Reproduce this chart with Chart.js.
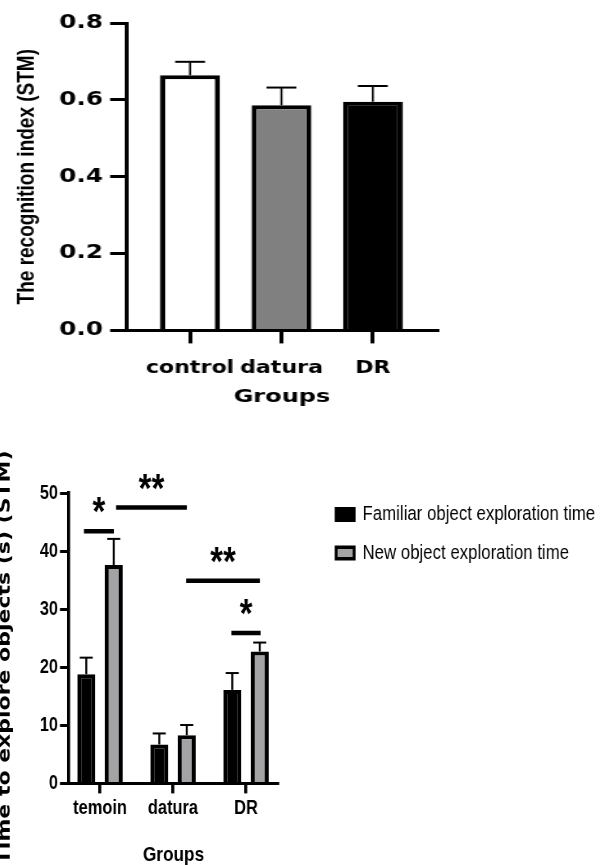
<!DOCTYPE html>
<html>
<head>
<meta charset="utf-8">
<script src="https://cdn.jsdelivr.net/npm/chart.js@4.4.1/dist/chart.umd.min.js"></script>
<style>
  html, body { margin: 0; padding: 0; background: #fff; overflow: hidden; }
  body { width: 603px; height: 865px; position: relative; }
  /* the top figure is stretched and the bottom one squeezed in the original */
  #indexChart { position: absolute; left: 0; top: 0; transform: scaleX(1.3); transform-origin: 0 0; }
  #timeChart { position: absolute; left: -10px; top: 440px; transform: scaleX(0.82); transform-origin: 0 0; }
</style>
</head>
<body>
<canvas id="indexChart" width="340" height="408"></canvas>
<canvas id="timeChart" width="748" height="428"></canvas>
<script>
// top chart: recognition index
const indexGroups = ['control', 'datura', 'DR'];
const recognitionIndex = [0.664, 0.586, 0.595];
const recognitionErr = [0.035, 0.046, 0.041];

// bottom chart: exploration times
const timeGroups = ['temoin', 'datura', 'DR'];
const familiarTime = [18.8, 6.7, 16.1];
const familiarErr = [2.85, 1.9, 2.9];
const newTime = [37.6, 8.3, 22.7];
const newErr = [4.5, 1.75, 1.55];

// significance bars (x in group units, y in seconds)
const sigFrom = [-0.22, 0.22, 1.18, 1.80];
const sigTo = [0.19, 1.19, 2.19, 2.2];
const sigLevel = [43.4, 47.5, 34.9, 25.9];
const sigStars = ['*', '**', '**', '*'];

const toPoints = (values) => values.map((v, i) => ({ x: i, y: v }));

const errorBars = {
  id: 'errorBars',
  afterDatasetsDraw(chart, args, opts) {
    const ctx = chart.ctx;
    const yScale = chart.scales.y;
    ctx.save();
    ctx.strokeStyle = '#000';
    chart.data.datasets.forEach((ds, di) => {
      const meta = chart.getDatasetMeta(di);
      meta.data.forEach((bar, i) => {
        const yTop = yScale.getPixelForValue(ds.data[i].y + ds.errors[i]);
        ctx.lineWidth = opts.lineWidth;
        ctx.beginPath();
        ctx.moveTo(bar.x, bar.y);
        ctx.lineTo(bar.x, yTop);
        ctx.stroke();
        ctx.lineWidth = opts.capLineWidth;
        ctx.beginPath();
        ctx.moveTo(bar.x - opts.capWidth / 2, yTop);
        ctx.lineTo(bar.x + opts.capWidth / 2, yTop);
        ctx.stroke();
      });
    });
    ctx.restore();
  }
};

const sigBars = {
  id: 'sigBars',
  afterDatasetsDraw(chart) {
    const ctx = chart.ctx;
    const xScale = chart.scales.x;
    const yScale = chart.scales.y;
    ctx.save();
    ctx.strokeStyle = '#000';
    ctx.fillStyle = '#000';
    ctx.lineWidth = 4.5;
    ctx.font = "bold 40px 'Liberation Sans'";
    ctx.textAlign = 'center';
    sigFrom.forEach((from, i) => {
      const x1 = xScale.getPixelForValue(from);
      const x2 = xScale.getPixelForValue(sigTo[i]);
      const yy = yScale.getPixelForValue(sigLevel[i]);
      ctx.beginPath();
      ctx.moveTo(x1, yy);
      ctx.lineTo(x2, yy);
      ctx.stroke();
      ctx.fillText(sigStars[i], (x1 + x2) / 2, yy - 6);
    });
    ctx.restore();
  }
};

new Chart(document.getElementById('indexChart'), {
  type: 'bar',
  data: {
    datasets: [{
      data: toPoints(recognitionIndex),
      errors: recognitionErr,
      backgroundColor: ['#ffffff', '#808080', '#000000'],
      borderColor: '#000',
      borderWidth: 4,
      barPercentage: 0.656,
      categoryPercentage: 1
    }]
  },
  options: {
    responsive: false,
    animation: false,
    layout: { padding: { top: 23, right: 4, bottom: 0, left: 0 } },
    plugins: {
      legend: { display: false },
      tooltip: { enabled: false },
      errorBars: { lineWidth: 1.5, capWidth: 23, capLineWidth: 2 }
    },
    scales: {
      x: {
        type: 'linear',
        offset: false,
        min: -0.69,
        max: 2.7,
        afterBuildTicks: (s) => { s.ticks = indexGroups.map((g, i) => ({ value: i })); },
        ticks: {
          callback: (v) => indexGroups[v],
          color: '#000',
          padding: 14.6,
          maxRotation: 0,
          autoSkip: false,
          font: { family: 'DejaVu Sans', weight: 'bold', size: 17 }
        },
        grid: { offset: false, drawOnChartArea: false, tickLength: 13, lineWidth: 3, color: '#000' },
        border: { color: '#000', width: 3 },
        title: {
          display: true,
          text: 'Groups',
          color: '#000',
          padding: { top: -7.2, bottom: 0 },
          font: { family: 'DejaVu Sans', weight: 'bold', size: 18.5 }
        }
      },
      y: {
        min: 0,
        max: 0.8,
        afterFit: (s) => { s.width = 97.7; },
        ticks: {
          stepSize: 0.2,
          callback: (v) => v.toFixed(1),
          color: '#000',
          padding: 5.5,
          font: { family: 'DejaVu Sans', weight: 'bold', size: 19 }
        },
        grid: { drawOnChartArea: false, tickLength: 13, lineWidth: 3, color: '#000' },
        border: { color: '#000', width: 3 },
        title: {
          display: true,
          text: 'The recognition index (STM)',
          color: '#000',
          padding: { top: 9.4, bottom: 0 },
          font: { family: 'Liberation Sans', weight: 'bold', size: 19 }
        }
      }
    }
  },
  plugins: [errorBars]
});

new Chart(document.getElementById('timeChart'), {
  type: 'bar',
  data: {
    datasets: [
      {
        label: 'Familiar object exploration time',
        data: toPoints(familiarTime),
        errors: familiarErr,
        xAxisID: 'x',
        yAxisID: 'y',
        backgroundColor: '#000',
        borderColor: '#000',
        borderWidth: { top: 4, left: 4.9, right: 4.9, bottom: 0 },
        barPercentage: 0.655,
        categoryPercentage: 0.753
      },
      {
        label: 'New object exploration time',
        data: toPoints(newTime),
        errors: newErr,
        xAxisID: 'x',
        yAxisID: 'y',
        backgroundColor: '#a3a3a6',
        borderColor: '#000',
        borderWidth: { top: 4, left: 4.9, right: 4.9, bottom: 0 },
        barPercentage: 0.655,
        categoryPercentage: 0.753
      }
    ]
  },
  options: {
    responsive: false,
    animation: false,
    layout: { padding: { top: 46.2, right: 0, bottom: 0, left: 0 } },
    plugins: {
      legend: {
        position: 'right',
        align: 'start',
        maxWidth: 500,
        labels: {
          boxWidth: 22,
          boxHeight: 11.5,
          padding: 18,
          color: '#000',
          font: { family: 'Liberation Sans', size: 20.5 }
        }
      },
      tooltip: { enabled: false },
      errorBars: { lineWidth: 2.4, capWidth: 15.9, capLineWidth: 2 }
    },
    scales: {
      x: {
        type: 'linear',
        offset: false,
        min: -0.425,
        max: 2.438,
        afterBuildTicks: (s) => { s.ticks = timeGroups.map((g, i) => ({ value: i })); },
        ticks: {
          callback: (v) => timeGroups[v],
          color: '#000',
          padding: 3,
          maxRotation: 0,
          autoSkip: false,
          font: { family: 'Liberation Sans', weight: 'bold', size: 20 }
        },
        grid: { offset: false, drawOnChartArea: false, tickLength: 10, lineWidth: 3.7, color: '#000' },
        border: { color: '#000', width: 3 },
        title: {
          display: true,
          text: 'Groups',
          color: '#000',
          padding: { top: 19.4, bottom: 0 },
          font: { family: 'Liberation Sans', weight: 'bold', size: 21 }
        }
      },
      xTop: {
        type: 'linear',
        position: 'top',
        afterFit: (s) => { s.height = 6.8; },
        ticks: { display: false },
        grid: { display: false },
        border: { display: false }
      },
      y: {
        min: 0,
        max: 50,
        afterFit: (s) => { s.width = 96.3; },
        ticks: {
          stepSize: 10,
          color: '#000',
          padding: 2.4,
          font: { family: 'Liberation Sans', weight: 'bold', size: 20 }
        },
        grid: { drawOnChartArea: false, tickLength: 11, lineWidth: 3, color: '#000' },
        border: { color: '#000', width: 3.7 },
        title: {
          display: true,
          text: 'Time to explore objects (s) (STM)     ',
          color: '#000',
          padding: { top: 5, bottom: 0 },
          font: { family: 'DejaVu Sans', weight: 'bold', size: 22 }
        }
      },
      yPad: {
        type: 'linear',
        position: 'right',
        afterFit: (s) => { s.width = s.chart.width - 351.2 - s.chart.legend.width; },
        ticks: { display: false },
        grid: { display: false },
        border: { display: false }
      }
    }
  },
  plugins: [errorBars, sigBars]
});
</script>
</body>
</html>
